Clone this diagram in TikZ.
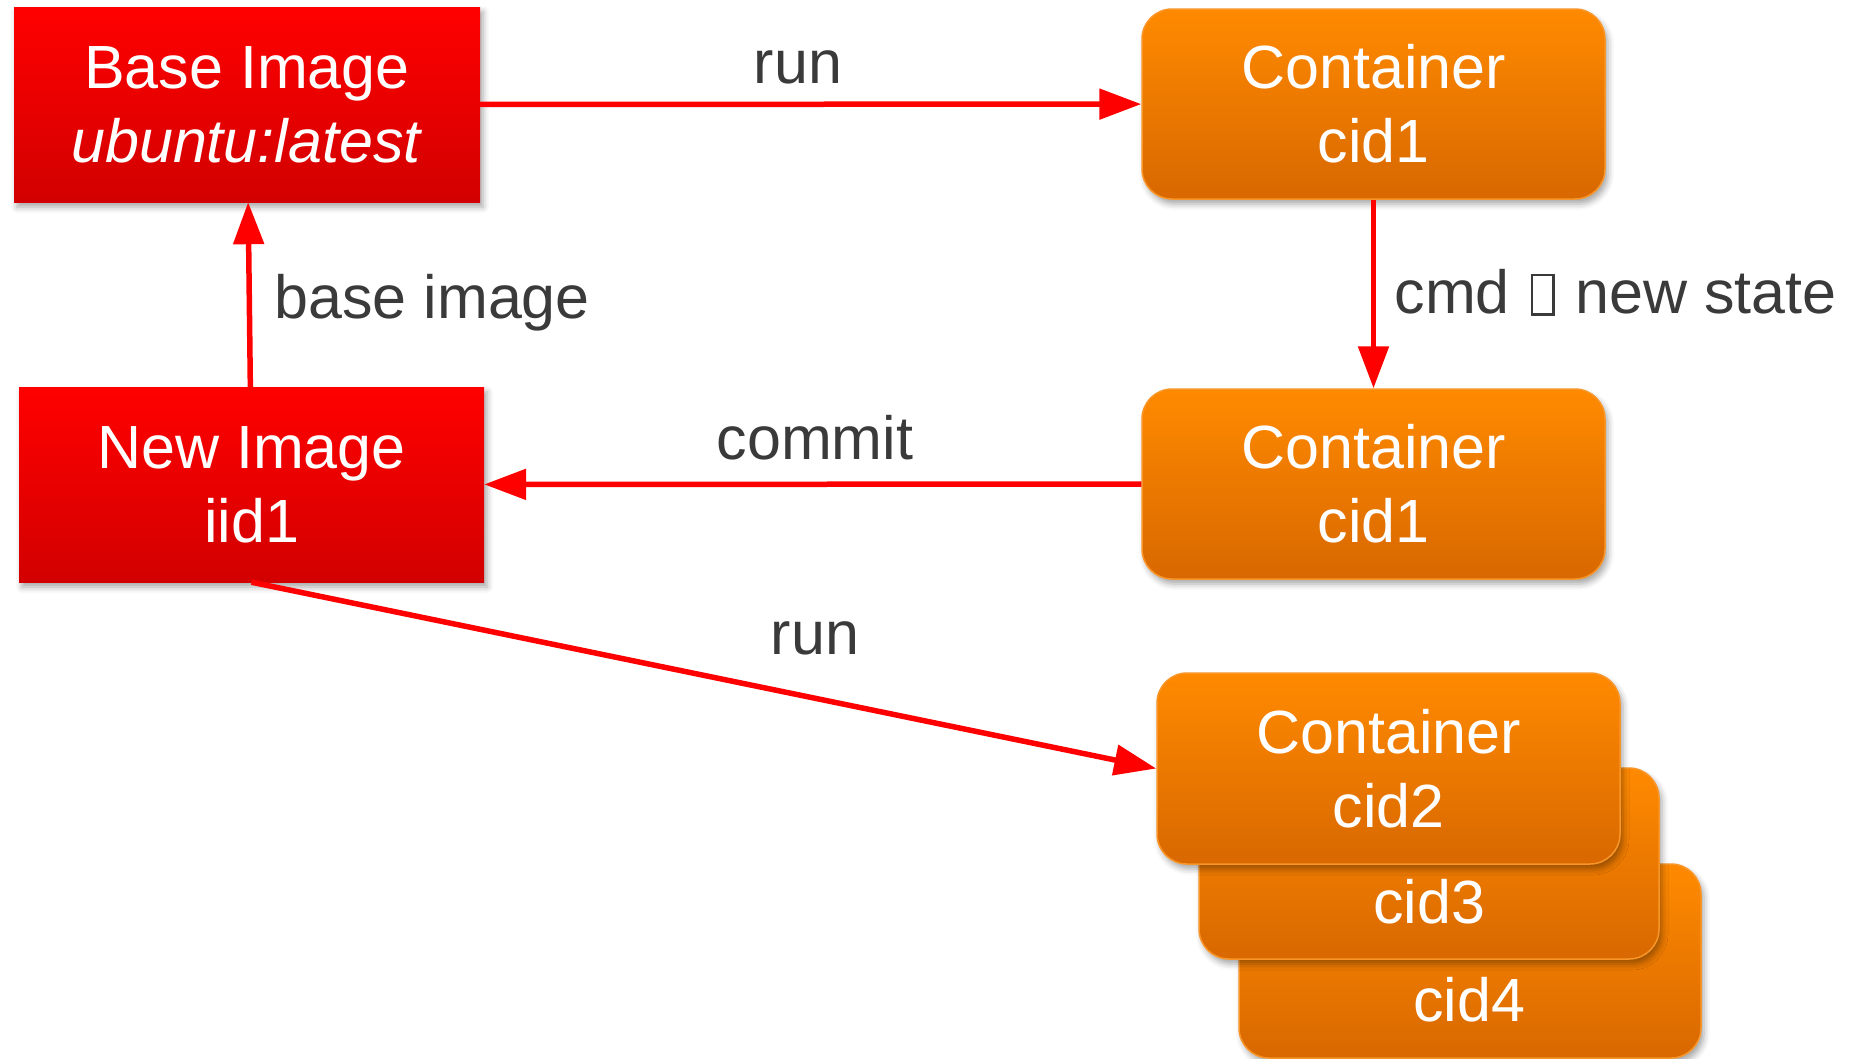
\documentclass[tikz,border=0pt]{standalone}
\usepackage{fontspec}
\setmainfont{Liberation Sans}
\usetikzlibrary{arrows.meta,shadows.blur}
\definecolor{boxred}{HTML}{FF0000}
\definecolor{boxredd}{HTML}{D20000}
\definecolor{boxorg}{HTML}{FF8A00}
\definecolor{boxorgd}{HTML}{D86800}
\definecolor{orgline}{HTML}{F9962A}
\definecolor{labelgray}{HTML}{3A3A3A}
\definecolor{arrred}{HTML}{FF0000}
\newcommand\tofuglyph{\hspace{4pt}\begingroup\setlength\fboxsep{0pt}\setlength\fboxrule{2.5pt}\fbox{\rule{0pt}{37pt}\hspace{19pt}}\endgroup\hspace{4pt}}
\tikzset{
  boxtext/.style={text=white, font=\fontsize{61pt}{74pt}\selectfont, align=center},
  myshadow/.style={blur shadow={shadow xshift=3pt, shadow yshift=-5pt, shadow blur radius=6pt, shadow opacity=35}},
  imgbox/.style={boxtext, rectangle, top color=boxred, middle color=boxred, bottom color=boxredd, inner sep=0pt, myshadow},
  ctrbox/.style={boxtext, rectangle, rounded corners=30pt, top color=boxorg, bottom color=boxorgd, draw=orgline, line width=1.5pt, inner sep=0pt, myshadow},
  conn/.style={draw=arrred, line width=5.5pt, -{Triangle[length=42pt,width=30pt]}},
  lbl/.style={text=labelgray, font=\fontsize{61pt}{74pt}\selectfont, anchor=base}
}
\begin{document}
\begin{tikzpicture}[x=1pt,y=-1pt]
\useasboundingbox (0,0) rectangle (1861,1058);
\node[imgbox, minimum width=466pt, minimum height=195pt] (base) at (247,104.5) {Base Image\\\textit{ubuntu:latest}};
\node[ctrbox, minimum width=463pt, minimum height=190pt] (c1) at (1373.5,104) {Container\\cid1};
\node[ctrbox, minimum width=463pt, minimum height=190pt] (c1b) at (1373.5,484) {Container\\cid1};
\node[imgbox, minimum width=465pt, minimum height=195pt] (new) at (251.5,484.5) {New Image\\iid1};
\node[ctrbox, minimum width=462pt, minimum height=194pt] (c4) at (1470,961) {};
\node[boxtext] (c4t) at (1469,1000) {cid4};
\node[ctrbox, minimum width=460pt, minimum height=191pt] (c3) at (1429,863.5) {};
\node[boxtext] (c3t) at (1429,902) {cid3};
\node[ctrbox, minimum width=463pt, minimum height=191pt] (c2) at (1388.5,768.5) {Container\\cid2};
\draw[conn] (base) -- (c1);
\draw[conn] (c1) -- (c1b);
\draw[conn] (c1b) -- (new);
\draw[conn] (new) -- (base);
\draw[conn] (new.south) -- (c2.west);
\node[lbl] (lrun) at (798,83) {run};
\node[lbl] (lcommit) at (815,459) {commit};
\node[lbl] (lrun2) at (815,654) {run};
\node[lbl, anchor=base west] (lbase) at (271,318) {base image};
\node[lbl, anchor=base west] (lcmd) at (1391,313) {cmd \tofuglyph{} new state};
\end{tikzpicture}
\end{document}
